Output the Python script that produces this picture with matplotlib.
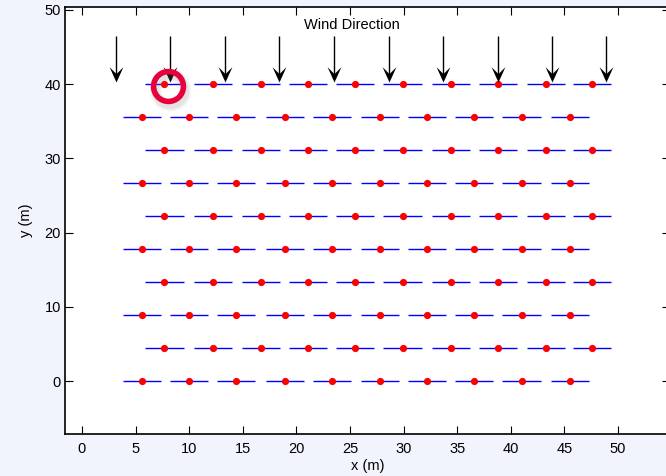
import numpy as np
import matplotlib
matplotlib.use("Agg")
import matplotlib.pyplot as plt
from matplotlib.path import Path
from matplotlib.transforms import offset_copy

plt.rcParams['font.family'] = ['Liberation Sans', 'DejaVu Sans']

# turbine layout (m)
row_y = [0, 4.4, 8.9, 13.3, 17.8, 22.2, 26.7, 31.1, 35.6, 40]
even_x = [5.6, 10.0, 14.4, 18.9, 23.3, 27.8, 32.2, 36.6, 41.0, 45.5]
odd_x = [7.7, 12.2, 16.7, 21.1, 25.5, 29.9, 34.4, 38.8, 43.3, 47.6]
rotor_d = 3.55

# wind arrows
arrow_x = [3.2, 8.2, 13.3, 18.4, 23.5, 28.6, 33.7, 38.8, 43.8, 48.9]
arrow_top = 46.5
arrow_tip = 40.3

highlight = (8.0, 39.8)

xticks = [0, 5, 10, 15, 20, 25, 30, 35, 40, 45, 50]
yticks = [0, 10, 20, 30, 40, 50]

fig = plt.figure(figsize=(6.66, 4.76), dpi=100, facecolor='#f1f4fc')
ax = fig.add_axes([65 / 666, 42 / 476, 605 / 666, 427 / 476])
ax.set_facecolor('white')

# turbines: rotor line + hub dot
for i, y in enumerate(row_y):
    xs = np.array(even_x if i % 2 == 0 else odd_x)
    ax.hlines(np.full(len(xs), y), xs - rotor_d / 2, xs + rotor_d / 2,
              colors='blue', linewidth=1.0, zorder=2)
    ax.plot(xs, np.full(len(xs), y), 'o', color='red', markersize=5.2,
            markeredgewidth=0, zorder=3)

# arrows pointing down
head = Path([(0, 0), (-0.45, 1), (0, 0.55), (0.45, 1), (0, 0)],
            [Path.MOVETO, Path.LINETO, Path.LINETO, Path.LINETO, Path.CLOSEPOLY])
ax.vlines(arrow_x, arrow_tip + 1, arrow_top, colors='black', linewidth=1.0, zorder=4)
ax.plot(arrow_x, [arrow_tip] * len(arrow_x), linestyle='none', marker=head,
        markersize=22, color='black', markeredgewidth=0, zorder=4)

ax.text(25.2, 48.0, 'Wind Direction', fontsize=10.5, ha='center', va='center')

# highlighted turbine ring with shadow
shadow = offset_copy(ax.transData, fig=fig, x=2, y=-4, units='dots')
for mew, a in [(9, 0.05), (7, 0.07), (5, 0.1)]:
    ax.plot(*highlight, 'o', markersize=21.5, markerfacecolor='none',
            markeredgecolor='gray', markeredgewidth=mew, alpha=a,
            transform=shadow, zorder=5)
ax.plot(*highlight, 'o', markersize=21.5, markerfacecolor='none',
        markeredgecolor='#e8003c', markeredgewidth=4, zorder=6)

ax.set_xlim(-1.58, 54.85)
ax.set_ylim(-7.14, 50.4)
ax.set_xticks(xticks)
ax.set_yticks(yticks)
ax.tick_params(direction='in', length=6, width=0.8, top=True, right=True,
               labelsize=10.5, colors='black')
ax.tick_params(axis='x', pad=6)
ax.tick_params(axis='y', pad=3)
for s in ax.spines.values():
    s.set_linewidth(1.2)
ax.set_xlabel('x (m)', fontsize=10.5, labelpad=2)
ax.set_ylabel('y (m)', fontsize=10.5, labelpad=8)

fig.savefig('out.png', dpi=100, facecolor=fig.get_facecolor())
